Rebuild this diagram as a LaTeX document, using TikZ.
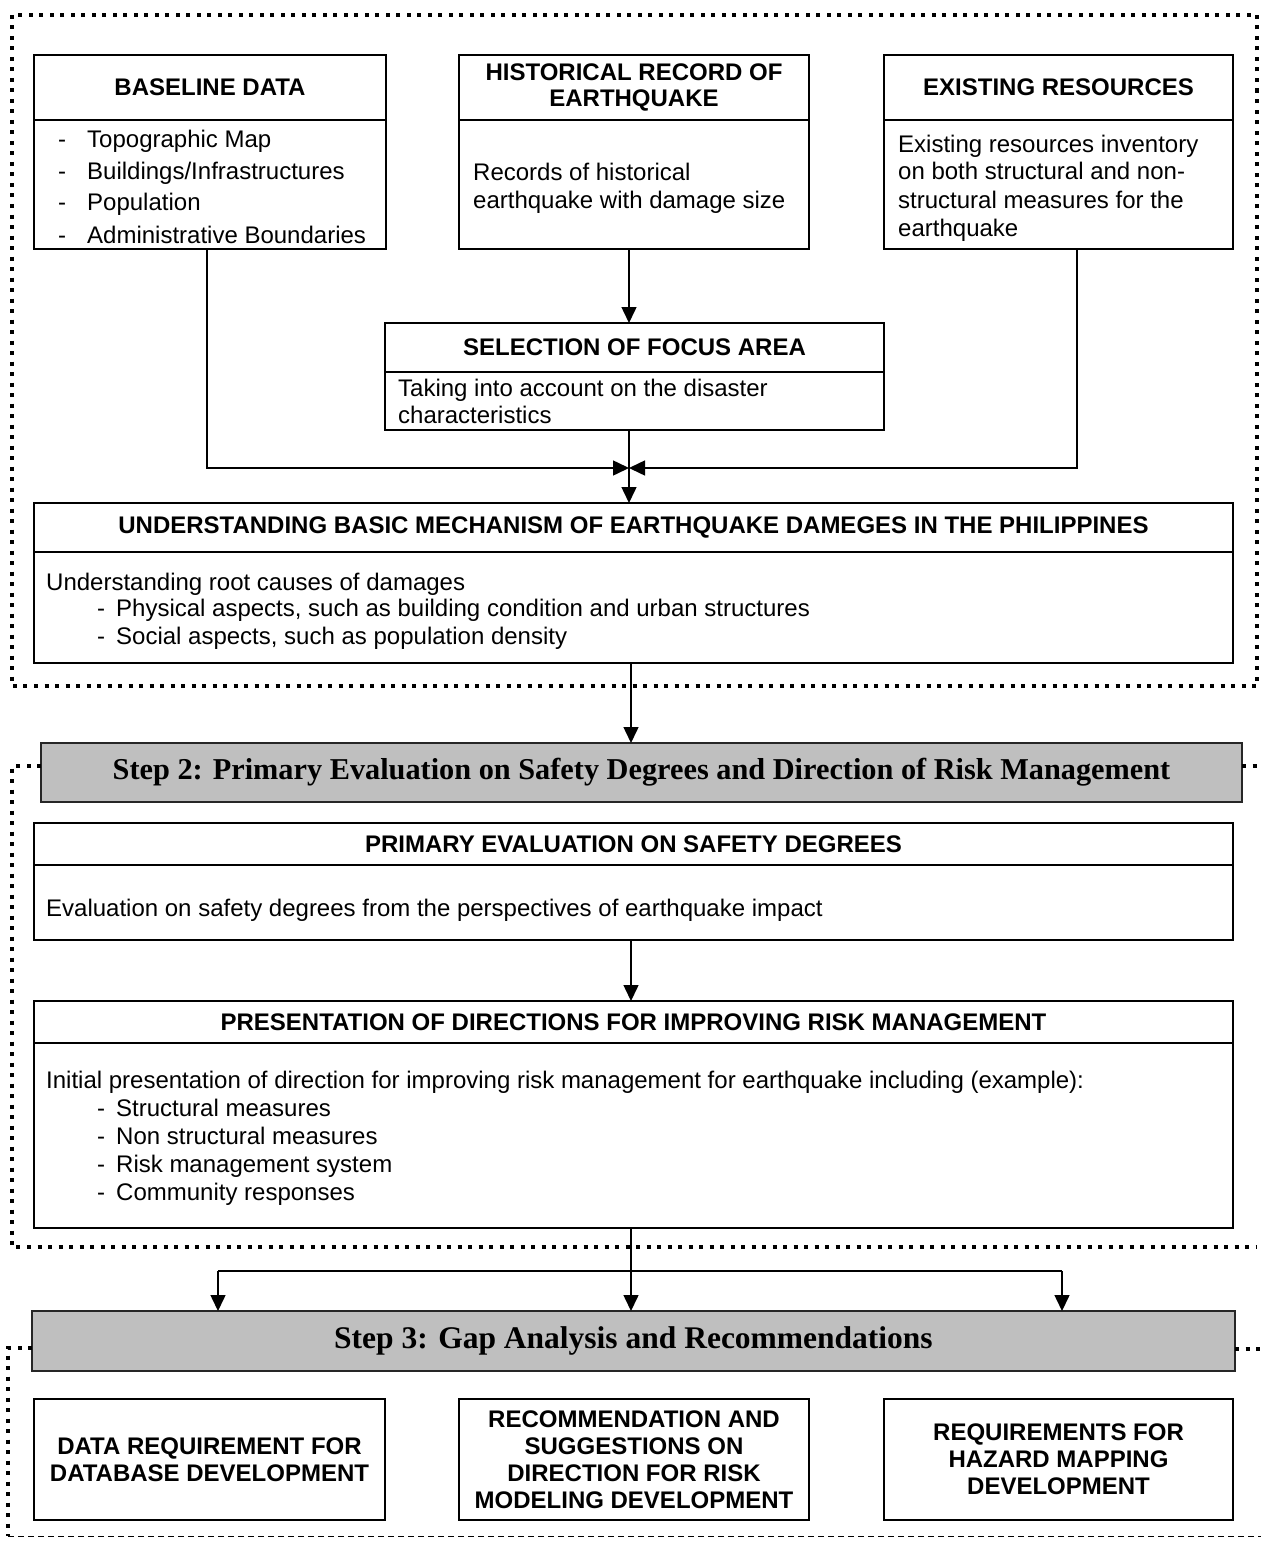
\documentclass[tikz,border=0pt]{standalone}
\usepackage{fontspec}
\setmainfont{Liberation Sans}
\newfontfamily\stepfont{Liberation Serif}
\usetikzlibrary{arrows.meta,calc}
\begin{document}
\begin{tikzpicture}[x=1pt,y=-1pt,
  box/.style={draw=black,line width=1.3pt,anchor=north west,inner sep=0pt,outer sep=0pt},
  ttl/.style={font=\fontsize{24}{26}\selectfont\bfseries,align=center},
  txt/.style={font=\fontsize{24}{27.5}\selectfont,anchor=base west,inner sep=0pt},
  stephead/.style={draw=black!85,line width=2pt,fill=gray!50,anchor=north west,inner sep=0pt,outer sep=0pt,
    font=\stepfont\fontsize{30.3}{36}\selectfont\bfseries},
  frame/.style={line width=4pt,dash pattern=on 4pt off 6.5pt},
  thinframe/.style={line width=1pt,dash pattern=on 6pt off 4pt},
  flow/.style={line width=1.5pt,-{Triangle[length=16pt,width=15pt]}},
  link/.style={line width=1.5pt},
  outbox/.style={box,ttl,minimum height=121pt,font=\fontsize{24}{27}\selectfont\bfseries},
]
\useasboundingbox[fill=white] (0,0) rectangle (1261,1541);

% ---------------- Step 1 frame ----------------
\draw[frame] (12,15) rectangle (1257,686);

% Baseline data
\node[box,ttl,minimum width=352pt,minimum height=65pt] (bd-t) at (34,55) {BASELINE DATA};
\node[box,minimum width=352pt,minimum height=129pt] (bd-b) at (34,120) {};
\foreach \yy/\tt [count=\i] in {148/{Topographic Map},179/{Buildings/Infrastructures},211/{Population},243/{Administrative Boundaries}}{
  \node[txt] (bd-d\i) at (58,\yy) {-};
  \node[txt] (bd-l\i) at (87,\yy) {\tt};
}

% Historical record
\node[box,ttl,minimum width=350pt,minimum height=65pt] (hr-t) at (459,55) {HISTORICAL RECORD OF\\EARTHQUAKE};
\node[box,minimum width=350pt,minimum height=129pt] (hr-b) at (459,120) {};
\node[txt] (hr-l1) at (473,181) {Records of historical};
\node[txt] (hr-l2) at (473,208) {earthquake with damage size};

% Existing resources
\node[box,ttl,minimum width=349pt,minimum height=65pt] (er-t) at (884,55) {EXISTING RESOURCES};
\node[box,minimum width=349pt,minimum height=129pt] (er-b) at (884,120) {};
\node[txt] (er-l1) at (898,153) {Existing resources inventory};
\node[txt] (er-l2) at (898,180) {on both structural and non-};
\node[txt] (er-l3) at (898,208) {structural measures for the};
\node[txt] (er-l4) at (898,236) {earthquake};

% Selection of focus area
\node[box,ttl,minimum width=499pt,minimum height=49pt] (sf-t) at (385,323) {SELECTION OF FOCUS AREA};
\node[box,minimum width=499pt,minimum height=58pt] (sf-b) at (385,372) {};
\node[txt] (sf-l1) at (398,396) {Taking into account on the disaster};
\node[txt] (sf-l2) at (398,423) {characteristics};

% Understanding basic mechanism
\node[box,ttl,minimum width=1199pt,minimum height=49pt] (ub-t) at (34,503)
  {UNDERSTANDING BASIC MECHANISM OF EARTHQUAKE DAMEGES IN THE PHILIPPINES};
\node[box,minimum width=1199pt,minimum height=111pt] (ub-b) at (34,552) {};
\node[txt] (ub-l1) at (46,590) {Understanding root causes of damages};
\node[txt] (ub-d2) at (97,616) {-};
\node[txt] (ub-l2) at (116,616) {Physical aspects, such as building condition and urban structures};
\node[txt] (ub-d3) at (97,644) {-};
\node[txt] (ub-l3) at (116,644) {Social aspects, such as population density};

% Connectors of step 1
\coordinate (join) at (629,468);
\draw[flow] (bd-b.south -| 207,0) |- (join);
\draw[flow] (er-b.south -| 1077,0) |- (join);
\draw[flow] (hr-b.south -| join) -- (sf-t.north -| join);
\draw[flow] (sf-b.south -| join) -- (ub-t.north -| join);

% ---------------- Step 2 ----------------
\node[stephead,minimum width=1201pt,minimum height=59pt] (s2) at (41,743)
  {Step 2: Primary Evaluation on Safety Degrees and Direction of Risk Management};
\draw[frame] (s2.west |- 0,766) -- (12,766) -- (12,1247) -- (1257,1247);
\draw[frame] (s2.east |- 0,766) -- (1261,766);

\node[box,ttl,minimum width=1199pt,minimum height=42pt] (pe-t) at (34,823) {PRIMARY EVALUATION ON SAFETY DEGREES};
\node[box,minimum width=1199pt,minimum height=75pt] (pe-b) at (34,865) {};
\node[txt] (pe-l1) at (46,916) {Evaluation on safety degrees from the perspectives of earthquake impact};

\node[box,ttl,minimum width=1199pt,minimum height=42pt] (pd-t) at (34,1001) {PRESENTATION OF DIRECTIONS FOR IMPROVING RISK MANAGEMENT};
\node[box,minimum width=1199pt,minimum height=185pt] (pd-b) at (34,1043) {};
\node[txt] (pd-l1) at (46,1088) {Initial presentation of direction for improving risk management for earthquake including (example):};
\foreach \yy/\tt [count=\i] in {1116/{Structural measures},1144/{Non structural measures},1172/{Risk management system},1200/{Community responses}}{
  \node[txt] (pd-d\i) at (97,\yy) {-};
  \node[txt] (pd-m\i) at (116,\yy) {\tt};
}

\coordinate (mid) at (631,0);
\draw[flow] (ub-b.south -| mid) -- (s2.north -| mid);
\draw[flow] (pe-b.south -| mid) -- (pd-t.north -| mid);

% ---------------- Step 3 ----------------
\node[stephead,minimum width=1203pt,minimum height=60pt,font=\stepfont\fontsize{31.5}{36}\selectfont\bfseries] (s3) at (32,1311)
  {Step 3: Gap Analysis and Recommendations};
\draw[frame] (s3.west |- 0,1348) -- (8,1348) -- (8,1536);
\draw[thinframe] (8,1536) -- (1261,1536);
\draw[frame] (s3.east |- 0,1349) -- (1261,1349);

\draw[flow] (pd-b.south -| mid) -- (s3.north -| mid);
\draw[link] (218,1271) -- (1062,1271);
\draw[flow] (218,1271) -- (s3.north -| 218,0);
\draw[flow] (1062,1271) -- (s3.north -| 1062,0);

\node[outbox,minimum width=351pt] (o1) at (34,1399)
  {DATA REQUIREMENT FOR\\DATABASE DEVELOPMENT};
\node[outbox,minimum width=350pt] (o2) at (459,1399)
  {RECOMMENDATION AND\\SUGGESTIONS ON\\DIRECTION FOR RISK\\MODELING DEVELOPMENT};
\node[outbox,minimum width=349pt] (o3) at (884,1399)
  {REQUIREMENTS FOR\\HAZARD MAPPING\\DEVELOPMENT};
\end{tikzpicture}
\end{document}
